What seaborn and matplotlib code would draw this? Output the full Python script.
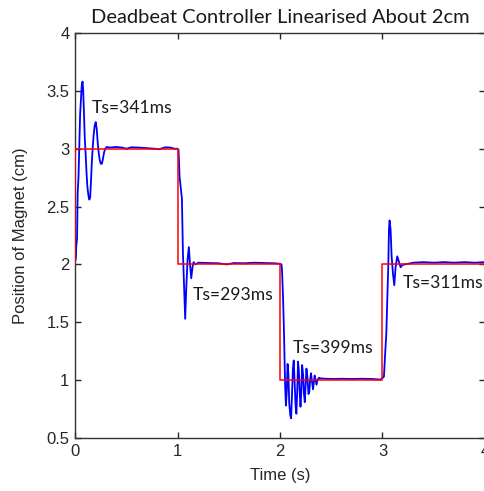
import matplotlib
matplotlib.use("Agg")
import matplotlib.pyplot as plt
from matplotlib.ticker import FormatStrFormatter
import pandas as pd
import seaborn as sns

# Setpoint trajectory (cm)
ref_t = [0, 0, 1, 1, 2, 2, 3, 3, 4]
ref_pos = [2, 3, 3, 2, 2, 1, 1, 2, 2]

# Measured magnet position (cm)
resp_t = [
    0.000, 0.008, 0.012, 0.020, 0.026, 0.034, 0.042, 0.050, 0.058, 0.066,
    0.074, 0.080, 0.088, 0.096, 0.104, 0.112, 0.120, 0.130, 0.140, 0.148,
    0.156, 0.164, 0.172, 0.182, 0.192, 0.202, 0.212, 0.222, 0.232, 0.242,
    0.252, 0.262, 0.272, 0.284, 0.296, 0.310, 0.340, 0.400, 0.460, 0.500,
    0.550, 0.620, 0.700, 0.780, 0.820, 0.880, 0.930, 0.970, 1.000, 1.010,
    1.020, 1.043, 1.053, 1.065, 1.075, 1.085, 1.098, 1.111, 1.121, 1.134,
    1.147, 1.157, 1.173, 1.205, 1.300, 1.400, 1.480, 1.550, 1.650, 1.750,
    1.850, 1.950, 2.000, 2.014, 2.020, 2.030, 2.038, 2.044, 2.050, 2.058,
    2.066, 2.074, 2.082, 2.090, 2.100, 2.108, 2.116, 2.126, 2.134, 2.142,
    2.152, 2.160, 2.168, 2.176, 2.184, 2.192, 2.200, 2.208, 2.216, 2.226,
    2.234, 2.242, 2.250, 2.258, 2.268, 2.278, 2.286, 2.294, 2.302, 2.312,
    2.322, 2.330, 2.338, 2.348, 2.356, 2.366, 2.380, 2.400, 2.450, 2.520,
    2.600, 2.700, 2.800, 2.900, 2.980, 3.014, 3.024, 3.037, 3.047, 3.057,
    3.063, 3.069, 3.079, 3.089, 3.102, 3.115, 3.128, 3.144, 3.161, 3.177,
    3.193, 3.220, 3.300, 3.400, 3.500, 3.600, 3.700, 3.800, 3.900, 4.000,
]
resp_pos = [
    2.02, 2.05, 2.16, 2.22, 2.62, 2.75, 3.02, 3.30, 3.42, 3.55,
    3.58, 3.50, 3.30, 3.08, 2.95, 2.80, 2.68, 2.60, 2.56, 2.58,
    2.72, 2.88, 3.00, 3.12, 3.20, 3.23, 3.17, 3.05, 2.96, 2.90,
    2.87, 2.87, 2.91, 2.97, 3.00, 3.015, 3.01, 3.015, 3.01, 3.00,
    3.012, 3.01, 3.005, 3.00, 2.995, 3.012, 3.01, 3.00, 3.00, 2.99,
    2.76, 2.57, 2.10, 1.78, 1.53, 1.78, 2.04, 2.15, 2.01, 1.88,
    1.98, 2.02, 2.00, 2.015, 2.012, 2.01, 2.00, 2.012, 2.01, 2.015,
    2.012, 2.01, 2.005, 2.00, 1.95, 1.70, 1.45, 1.20, 0.95, 0.78,
    0.90, 1.14, 1.05, 0.80, 0.70, 0.67, 0.85, 1.10, 1.17, 1.00,
    0.78, 0.71, 0.90, 1.16, 1.08, 0.90, 0.77, 0.90, 1.13, 1.04,
    0.88, 0.81, 0.95, 1.10, 1.02, 0.88, 0.90, 1.00, 1.06, 0.99,
    0.92, 0.98, 1.04, 1.00, 0.96, 1.00, 1.02, 1.015, 1.012, 1.01,
    1.012, 1.01, 1.012, 1.01, 1.005, 1.03, 1.20, 1.40, 1.72, 2.01,
    2.30, 2.38, 2.30, 2.07, 1.92, 1.82, 1.98, 2.07, 2.02, 1.975,
    1.995, 2.00, 2.015, 2.02, 2.015, 2.02, 2.015, 2.02, 2.015, 2.02,
]

# Settling-time annotations
settle_text = ["Ts=341ms", "Ts=293ms", "Ts=399ms", "Ts=311ms"]
settle_t = [0.165, 1.153, 2.128, 3.193]
settle_pos = [3.35, 1.74, 1.28, 1.84]

x_ticks = [0, 1, 2, 3, 4]
y_ticks = [0.5, 1, 1.5, 2, 2.5, 3, 3.5, 4]

sns.set_style("ticks")
plt.rcParams["font.family"] = ["Liberation Sans", "DejaVu Sans"]

ref_df = pd.DataFrame({"t": ref_t, "pos": ref_pos})
resp_df = pd.DataFrame({"t": resp_t, "pos": resp_pos})

fig = plt.figure(figsize=(4.84, 4.91), dpi=100)
ax = fig.add_axes([75 / 484, 53 / 491, 410 / 484, 405 / 491])

sns.lineplot(data=resp_df, x="t", y="pos", ax=ax, sort=False, estimator=None,
             color="#0000ff", linewidth=1.3, zorder=2)
sns.lineplot(data=ref_df, x="t", y="pos", ax=ax, sort=False, estimator=None,
             color="#ff0000", linewidth=1.1, zorder=3)

for txt, tx, ty in zip(settle_text, settle_t, settle_pos):
    ax.text(tx, ty, txt, ha="left", va="center", fontsize=12.6,
            family=["Lato", "DejaVu Sans"], color="#1a1a1a", zorder=4)

ax.set_xlim(0, 4)
ax.set_ylim(0.5, 4)
ax.set_xticks(x_ticks)
ax.set_yticks(y_ticks)
ax.xaxis.set_major_formatter(FormatStrFormatter("%g"))
ax.yaxis.set_major_formatter(FormatStrFormatter("%g"))
ax.tick_params(direction="in", length=4, width=1, top=True, right=True,
               labelsize=12, colors="#262626", pad=4)
for sp in ax.spines.values():
    sp.set_visible(True)
    sp.set_color("#333333")
    sp.set_linewidth(1.0)

ax.set_title("Deadbeat Controller Linearised About 2cm", fontsize=14.5,
             family=["Lato", "DejaVu Sans"], color="#1a1a1a", pad=7)
ax.set_xlabel("Time (s)", fontsize=12, color="#262626")
ax.set_ylabel("Position of Magnet (cm)", fontsize=12, color="#262626")
ax.xaxis.set_label_coords(0.5, -0.075)
ax.yaxis.set_label_coords(-0.115, 0.5)

fig.savefig("out.png", dpi=100)
